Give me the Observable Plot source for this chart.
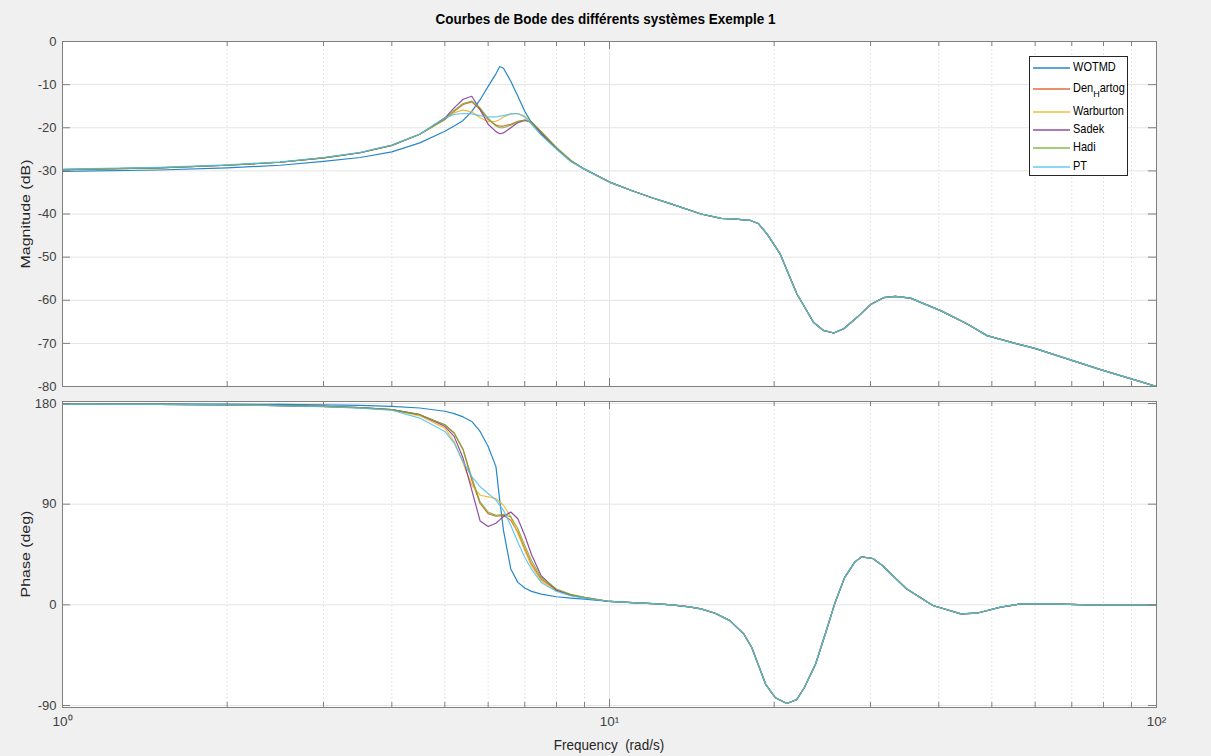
<!DOCTYPE html>
<html>
<head>
<meta charset="utf-8">
<script src="https://cdn.jsdelivr.net/npm/d3@7"></script>
<script src="https://cdn.jsdelivr.net/npm/@observablehq/plot@0.6"></script>
<style>
  html, body { margin: 0; padding: 0; background: #f0f0f0; }
  #fig { position: relative; width: 1211px; height: 756px; background: #f0f0f0; overflow: hidden;
         font-family: "Liberation Sans", Arial, sans-serif; }
  #fig > svg { position: absolute; left: 0; }
  .ttl { position: absolute; left: 0; width: 1211px; top: 11px; text-align: center;
         font-weight: bold; font-size: 13.5px; color: #000; transform: scaleY(1.15); }
  .xl { position: absolute; left: 0; width: 1218px; top: 737px; text-align: center; font-size: 13.5px; color: #262626;
        white-space: pre; transform: scaleY(1.15); }
  .yl { position: absolute; font-size: 13.5px; color: #262626; white-space: nowrap;
        transform: translate(-50%, -50%) rotate(-90deg) scale(1.18, 1); }
  #legend { position: absolute; left: 1029px; top: 56px; width: 99px; height: 120px; background: #fff;
            border: 1px solid #262626; box-sizing: border-box; font-size: 11px; color: #000; }
  #legend .row { position: absolute; left: 0; height: 14px; width: 97px; }
  #legend .row svg { position: absolute; left: 3px; top: 2px; }
  #legend .row span.lb { position: absolute; left: 43px; top: 0; white-space: nowrap; line-height: 13px; transform: scaleY(1.1); }
  #legend sub { font-size: 9px; vertical-align: -4px; line-height: 0; }
</style>
</head>
<body>
<div id="fig">
  <div class="ttl">Courbes de Bode des différents systèmes Exemple 1</div>
</div>
<script>
// ---------------- DATA ----------------
const seriesNames = ["WOTMD", "Den_Hartog", "Warburton", "Sadek", "Hadi", "PT"];
const seriesColors = ["#0072BD", "#D95319", "#EDB120", "#7E2F8E", "#77AC30", "#4DBEEE"];

// frequencies (rad/s) where the six responses differ
const freqLow = [1, 1.5, 2, 2.5, 3, 3.5, 4, 4.5, 5, 5.2, 5.4, 5.6, 5.8, 6.0, 6.2, 6.3, 6.4, 6.6, 6.8, 7.0, 7.2, 7.5, 8, 8.5, 9];

// magnitude (dB) on freqLow
const magWOTMD      = [-30.1,-29.8,-29.3,-28.7,-27.8,-26.9,-25.6,-23.5,-20.8,-19.6,-18.3,-16.2,-13.5,-10.4,-7.5,-5.8,-6.2,-9.2,-12.7,-16.2,-18.8,-21.5,-24.8,-27.7,-29.6];
const magDenHartog  = [-29.7,-29.3,-28.7,-28.0,-27.0,-25.8,-24.1,-21.5,-18.1,-16.2,-14.6,-14.0,-15.8,-18.1,-19.4,-19.6,-19.6,-19.2,-18.5,-18.2,-18.7,-20.9,-24.6,-27.6,-29.6];
const magWarburton  = [-29.7,-29.3,-28.7,-28.0,-27.0,-25.8,-24.1,-21.5,-17.7,-16.5,-15.9,-16.3,-17.7,-18.6,-18.5,-18.1,-17.5,-16.8,-16.7,-17.3,-18.8,-21.2,-24.8,-27.7,-29.6];
const magSadek      = [-29.7,-29.3,-28.7,-28.0,-27.0,-25.8,-24.1,-21.5,-17.8,-15.4,-13.4,-12.7,-15.8,-19.2,-20.9,-21.4,-21.2,-20.0,-18.8,-18.3,-18.7,-21.2,-24.8,-27.7,-29.6];
const magHadi       = [-29.7,-29.3,-28.7,-28.0,-27.0,-25.8,-24.1,-21.5,-18.1,-16.0,-14.4,-13.8,-15.4,-17.8,-19.6,-20.0,-20.0,-19.4,-18.6,-18.2,-18.6,-20.9,-24.6,-27.6,-29.6];
const magPT         = [-29.6,-29.2,-28.6,-27.9,-26.9,-25.7,-24.0,-21.5,-17.7,-16.9,-16.7,-16.8,-17.2,-17.5,-17.5,-17.3,-17.2,-16.8,-16.7,-17.5,-19.2,-21.7,-25.0,-27.9,-29.6];

// phase (deg) on freqLow
const phWOTMD       = [179.8,179.7,179.5,179.2,178.8,178.3,177.5,176.0,173.1,171.0,168.0,164.0,155.0,141.6,123.6,93.6,66.6,32.1,20.1,15.0,12.0,9.6,7.2,6.0,5.1];
const phDenHartog   = [179.5,179.2,178.8,178.2,177.4,176.3,174.6,170.0,161.0,153.6,138.6,111.6,90.6,81.6,79.2,79.5,80.1,75.6,65.0,50.0,36.6,23.0,13.2,9.0,6.6];
const phWarburton   = [179.5,179.2,178.8,178.2,177.3,176.1,174.3,169.0,158.0,146.0,126.6,107.0,98.0,96.6,95.0,92.0,89.0,78.6,63.6,48.6,35.0,21.6,12.6,8.7,6.6];
const phSadek       = [179.5,179.2,178.8,178.2,177.4,176.3,174.6,170.0,159.6,150.6,131.0,102.6,75.0,70.0,73.0,76.0,79.0,83.0,77.0,62.0,45.0,26.0,13.0,8.5,6.3];
const phHadi        = [179.5,179.2,178.8,178.2,177.4,176.3,174.6,170.0,161.0,153.6,139.0,114.0,92.0,83.0,80.0,80.5,81.0,78.6,68.0,53.0,39.6,24.6,14.1,9.3,6.6];
const phPT          = [179.5,179.2,178.7,178.0,177.1,175.8,174.0,167.0,155.0,144.6,128.0,114.6,105.6,99.6,93.6,89.0,84.6,71.0,56.0,42.6,32.0,20.0,12.0,8.1,6.0];

// common high-frequency part (all systems coincide)
const magFreqTail = [10, 11, 12, 13, 14.7, 16, 17, 18.1, 18.7, 19.4, 20.5, 22, 23.6, 24.6, 25.7, 26.8, 28.4, 30, 31.7, 33.3, 35.5, 40.3, 45.1, 49, 55.6, 59.7, 68.7, 79, 90.9, 100];
const magTail     = [-32.6,-34.6,-36.3,-37.7,-40.0,-41.0,-41.2,-41.5,-42.2,-44.6,-49.2,-58.5,-65.1,-67.0,-67.6,-66.6,-63.9,-61.0,-59.4,-59.1,-59.5,-62.4,-65.5,-68.2,-70.1,-71.1,-73.6,-76.1,-78.4,-80.0];
const phFreqTail  = [10, 11, 12, 13, 14, 14.7, 15.6, 16.6, 17.6, 18.2, 19.3, 20.1, 21.1, 22, 22.7, 23.8, 24.8, 25.8, 26.9, 28.1, 28.9, 30.3, 31.5, 34.9, 39, 43.9, 46.9, 51.9, 56.5, 64.2, 75, 100];
const phTail      = [3.0, 2.0, 1.0, 0.0, -1.8, -3.6, -7.5, -14.1, -26.1, -38.1, -71.1, -83.1, -88.2, -84.6, -74.1, -53.1, -26.1, 0.9, 24.3, 38.4, 42.9, 41.4, 35.4, 14.4, -0.6, -8.1, -7.5, -2.1, 0.9, 0.9, 0.0, 0.0];

// axis ticks
const xMajor = [1, 10, 100];
const xMinor = [2, 3, 4, 5, 6, 7, 8, 9, 20, 30, 40, 50, 60, 70, 80, 90];
const magTicks = [0, -10, -20, -30, -40, -50, -60, -70, -80];
const phTicks = [180, 90, 0, -90];
const xTickLabels = ["10\u2070", "10\u00B9", "10\u00B2"];

// ---------------- BUILD TABLES ----------------
const magLow = [magWOTMD, magDenHartog, magWarburton, magSadek, magHadi, magPT];
const phLow = [phWOTMD, phDenHartog, phWarburton, phSadek, phHadi, phPT];
const magData = seriesNames.flatMap((s, i) =>
  freqLow.map((f, j) => ({s, f, v: magLow[i][j]}))
    .concat(magFreqTail.map((f, j) => ({s, f, v: magTail[j]}))));
const phData = seriesNames.flatMap((s, i) =>
  freqLow.map((f, j) => ({s, f, v: phLow[i][j]}))
    .concat(phFreqTail.map((f, j) => ({s, f, v: phTail[j]}))));

// ---------------- LAYOUT ----------------
const W = 1211, ML = 62, MR = 55;
const plotW = W - ML - MR;
const axisColor = "#808080";
const gridColor = "#e4e4e4";
const font = "'Liberation Sans', Arial, sans-serif";

function panel({data, yDomain, yTicks, height, mTop, mBottom, showX}) {
  const plotH = height - mTop - mBottom;
  const marks = [
    Plot.frame({fill: "white", stroke: null}),
    Plot.ruleX(xMinor, {stroke: "#dcdcdc", strokeDasharray: "1.5,2.5"}),
    Plot.ruleX([10], {stroke: gridColor}),
    Plot.ruleY(yTicks, {stroke: gridColor}),
    Plot.line(data, {x: "f", y: "v", z: "s", stroke: "s", strokeWidth: 1.2, strokeOpacity: 0.85, clip: true}),
    Plot.frame({stroke: axisColor}),
    Plot.tickX(xMinor, {x: d => d, stroke: axisColor, insetBottom: plotH - 5}),
    Plot.tickX(xMinor, {x: d => d, stroke: axisColor, insetTop: plotH - 5}),
    Plot.tickX(xMajor, {x: d => d, stroke: axisColor, insetBottom: plotH - 8}),
    Plot.tickX(xMajor, {x: d => d, stroke: axisColor, insetTop: plotH - 8}),
    Plot.tickY(yTicks, {y: d => d, stroke: axisColor, insetRight: plotW - 8}),
    Plot.tickY(yTicks, {y: d => d, stroke: axisColor, insetLeft: plotW - 8}),
    Plot.axisY(yTicks, {anchor: "left", tickSize: 0, tickPadding: 6, fontSize: 13, fill: "#404040", label: null,
      tickFormat: d => String(d)})
  ];
  if (showX) {
    marks.push(Plot.axisX(xMajor, {anchor: "bottom", tickSize: 0, tickPadding: 9, fontSize: 13.5, fill: "#404040", label: null,
      tickFormat: d => xTickLabels[xMajor.indexOf(d)]}));
  }
  return Plot.plot({
    width: W, height,
    marginLeft: ML, marginRight: MR, marginTop: mTop, marginBottom: mBottom,
    x: {type: "log", domain: [1, 100], axis: null},
    y: {domain: yDomain, axis: null},
    color: {domain: seriesNames, range: seriesColors},
    style: {background: "transparent", fontFamily: font, overflow: "visible"},
    marks
  });
}

const fig = document.getElementById("fig");

const magSvg = panel({data: magData, yDomain: [-80, 0], yTicks: magTicks, height: 400, mTop: 41, mBottom: 14, showX: false});
magSvg.style.top = "0px";
fig.appendChild(magSvg);

const phSvg = panel({data: phData, yDomain: [-91.8, 181.8], yTicks: phTicks, height: 366, mTop: 11, mBottom: 49, showX: true});
phSvg.style.top = "390px";
fig.appendChild(phSvg);

// axis titles
const xl = document.createElement("div");
xl.className = "xl"; xl.textContent = "Frequency  (rad/s)";
fig.appendChild(xl);
const yl1 = document.createElement("div");
yl1.className = "yl"; yl1.textContent = "Magnitude (dB)";
yl1.style.left = "25px"; yl1.style.top = "214px";
fig.appendChild(yl1);
const yl2 = document.createElement("div");
yl2.className = "yl"; yl2.textContent = "Phase (deg)";
yl2.style.left = "25px"; yl2.style.top = "554px";
fig.appendChild(yl2);

// legend
const legend = document.createElement("div");
legend.id = "legend";
const rowTops = [4, 25, 48, 66, 84, 103];
seriesNames.forEach((s, i) => {
  const row = document.createElement("div");
  row.className = "row";
  row.style.top = rowTops[i] + "px";
  row.innerHTML = `<svg width="37" height="10"><line x1="0" x2="37" y1="5" y2="5" stroke="${seriesColors[i]}" stroke-width="1.5" stroke-opacity="0.85"/></svg>`;
  const lb = document.createElement("span");
  lb.className = "lb";
  const parts = s.split("_");
  if (parts.length === 2) {
    lb.innerHTML = parts[0] + "<sub>" + parts[1][0] + "</sub>" + parts[1].slice(1);
  } else lb.textContent = s;
  row.appendChild(lb);
  legend.appendChild(row);
});
fig.appendChild(legend);
</script>
</body>
</html>
